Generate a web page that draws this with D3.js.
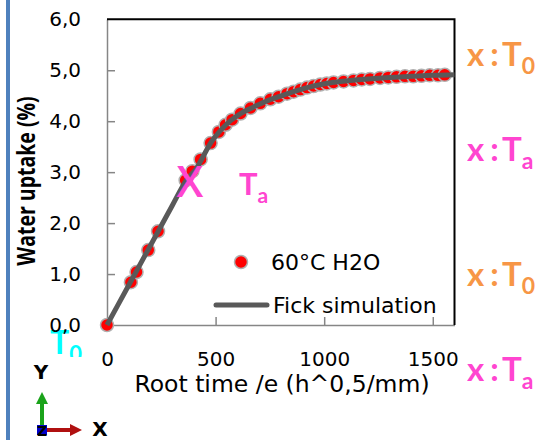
<!DOCTYPE html>
<html>
<head>
<meta charset="utf-8">
<title>Water uptake</title>
<script src="https://cdn.jsdelivr.net/npm/d3@7"></script>
<style>
	html, body {
		margin: 0;
		padding: 0;
		background: white;
	}
	svg text {
		font-family: 'DejaVu Sans', sans-serif;
	}
</style>
</head>
<body>
<div id="vis"></div>

<script>

// measured points, 60°C H2O (root time, uptake %)
var measX = [0, 110, 136, 190, 235, 362, 393, 431, 477, 515, 546, 576, 615, 661, 706, 752, 790, 829, 859, 890, 921, 951, 982, 1012, 1043, 1089, 1135, 1173, 1211, 1257, 1295, 1333, 1372, 1410, 1448, 1486, 1524, 1555];
var measY = [0, 0.84, 1.04, 1.47, 1.84, 2.84, 3.02, 3.25, 3.57, 3.79, 3.93, 4.03, 4.15, 4.26, 4.35, 4.43, 4.48, 4.54, 4.58, 4.62, 4.66, 4.69, 4.72, 4.74, 4.76, 4.78, 4.80, 4.82, 4.83, 4.85, 4.86, 4.87, 4.88, 4.88, 4.89, 4.90, 4.90, 4.91];

// Fick simulation curve
var fickX = [0, 100, 200, 300, 362, 416, 439, 477, 523, 569, 615, 676, 737, 798, 859, 921, 997, 1100, 1200, 1300, 1400, 1500, 1600];
var fickY = [0, 0.78, 1.56, 2.34, 2.82, 3.10, 3.28, 3.57, 3.82, 4.01, 4.15, 4.28, 4.40, 4.49, 4.58, 4.66, 4.73, 4.79, 4.83, 4.86, 4.88, 4.90, 4.91];

var xTicks = [0, 500, 1000, 1500];
var yTicks = [0, 1, 2, 3, 4, 5, 6];

var seriesNames = ["60°C H2O", "Fick simulation"];

var width = 535, height = 440;

var svg = d3.select("#vis").append("svg")
	.attr("width", width)
	.attr("height", height)
	.style("display", "block");

svg.append("rect").attr("width", width).attr("height", height).attr("fill", "white");

// blue bar on the left
svg.append("rect")
	.attr("x", 6).attr("y", 0).attr("width", 4).attr("height", height)
	.attr("fill", "#4f81bd");

var x = d3.scaleLinear().domain([0, 1600]).range([107, 454.5]);
var y = d3.scaleLinear().domain([0, 6]).range([325, 19.3]);

var comma = d3.formatLocale({decimal: ",", thousands: "", grouping: [3], currency: ["", ""]});

// cyan T0, partly hidden
svg.append("clipPath").attr("id", "cyanClip")
	.append("rect").attr("x", 0).attr("y", 300).attr("width", 110).attr("height", 57);

var cyan = svg.append("text")
	.attr("clip-path", "url(#cyanClip)")
	.attr("x", 50).attr("y", 354)
	.attr("fill", "#00ffff")
	.style("font-family", "Lato, sans-serif")
	.style("font-weight", 700)
	.style("font-size", "32px");
cyan.append("tspan").text("T");
cyan.append("tspan").attr("dy", 8).style("font-size", "22px").text("0");

// axes
var yAxis = d3.axisLeft(y)
	.tickValues(yTicks)
	.tickSizeInner(-8)
	.tickSizeOuter(0)
	.tickPadding(26)
	.tickFormat(comma.format(".1f"));

var xAxis = d3.axisBottom(x)
	.tickValues(xTicks)
	.tickSizeInner(-8)
	.tickSizeOuter(0)
	.tickPadding(27)
	.tickFormat(d3.format("d"));

var gy = svg.append("g").attr("transform", "translate(107,0)").call(yAxis);
var gx = svg.append("g").attr("transform", "translate(0,325)").call(xAxis);

svg.selectAll(".domain, .tick line")
	.attr("stroke", "#868686")
	.attr("stroke-width", 1.5);

svg.selectAll(".tick text")
	.attr("fill", "black")
	.style("font-family", "'DejaVu Sans', sans-serif")
	.style("font-size", "20px");

// no tick marks at the corners
gy.selectAll(".tick line").filter(function(d) { return d === 0 || d === 6; }).remove();
gx.selectAll(".tick line").filter(function(d) { return d === 0; }).remove();

// top and right border
svg.append("path")
	.attr("d", "M" + x(0) + "," + y(6) + "H" + x(1600) + "V" + y(0))
	.attr("fill", "none")
	.attr("stroke", "black")
	.attr("stroke-width", 2);

// measured dots
var pts = measX.map(function(d, i) { return {x: d, y: measY[i]}; });

svg.append("g").selectAll("circle")
	.data(pts)
	.enter().append("circle")
	.attr("cx", function(d) { return x(d.x); })
	.attr("cy", function(d) { return y(d.y); })
	.attr("r", 6.5)
	.attr("fill", "#ff0000")
	.attr("stroke", "#b0b0b0")
	.attr("stroke-width", 1.5);

// Fick line
var fick = fickX.map(function(d, i) { return {x: d, y: fickY[i]}; });

var line = d3.line()
	.x(function(d) { return x(d.x); })
	.y(function(d) { return y(d.y); })
	.curve(d3.curveMonotoneX);

svg.append("path")
	.datum(fick)
	.attr("d", line)
	.attr("fill", "none")
	.attr("stroke", "#595959")
	.attr("stroke-width", 5);

// legend
svg.append("circle")
	.attr("cx", 241).attr("cy", 262).attr("r", 6.5)
	.attr("fill", "#ff0000").attr("stroke", "#b0b0b0").attr("stroke-width", 1.5);
svg.append("text")
	.attr("x", 271).attr("y", 270)
	.style("font-size", "22px")
	.text(seriesNames[0]);

svg.append("line")
	.attr("x1", 216).attr("x2", 267).attr("y1", 305).attr("y2", 305)
	.attr("stroke", "#595959").attr("stroke-width", 5).attr("stroke-linecap", "round");
svg.append("text")
	.attr("x", 273).attr("y", 313)
	.style("font-size", "22px")
	.text(seriesNames[1]);

// axis titles
svg.append("text")
	.attr("x", 282).attr("y", 392)
	.attr("text-anchor", "middle")
	.style("font-size", "23.5px")
	.text("Root time /e (h^0,5/mm)");

svg.append("text")
	.attr("transform", "translate(35,181) rotate(-90) scale(1,1.25)")
	.attr("text-anchor", "middle")
	.style("font-family", "'Open Sans', sans-serif")
	.style("font-size", "19.5px")
	.style("font-weight", 700)
	.text("Water uptake (%)");

// magenta X marker and Ta
var magenta = "#ff45d0";
var orange = "#f79646";

svg.append("text")
	.attr("x", 190).attr("y", 197)
	.attr("text-anchor", "middle")
	.attr("fill", magenta)
	.style("font-family", "'Open Sans', sans-serif")
	.style("font-weight", 600)
	.style("font-size", "43px")
	.text("X");

var ta = svg.append("text")
	.attr("x", 239).attr("y", 195)
	.attr("fill", magenta)
	.style("font-family", "Lato, sans-serif")
	.style("font-weight", 700)
	.style("font-size", "31px");
ta.append("tspan").text("T");
ta.append("tspan").attr("dy", 8).style("font-size", "21px").text("a");

// right side labels
var sideLabels = [
	{y: 66, color: orange, sub: "0"},
	{y: 161, color: magenta, sub: "a"},
	{y: 286, color: orange, sub: "0"},
	{y: 381, color: magenta, sub: "a"}
];

sideLabels.forEach(function(d) {
	var t = svg.append("text")
		.attr("x", 467).attr("y", d.y)
		.attr("fill", d.color)
		.style("font-family", "Lato, sans-serif")
		.style("font-weight", 700)
		.style("font-size", "33px");
	t.append("tspan").text("x");
	t.append("tspan").attr("dx", 6).text(":");
	t.append("tspan").attr("dx", 5).text("T");
	t.append("tspan").attr("dy", 8).style("font-size", "23px").text(d.sub);
});

// small axis icon bottom left
var icon = svg.append("g");
icon.append("line")
	.attr("x1", 42).attr("x2", 42).attr("y1", 428).attr("y2", 402)
	.attr("stroke", "#1aa31a").attr("stroke-width", 4);
icon.append("path")
	.attr("d", "M36,404 L42,392 L48,404 Z")
	.attr("fill", "#1aa31a");
icon.append("line")
	.attr("x1", 46).attr("x2", 72).attr("y1", 430).attr("y2", 430)
	.attr("stroke", "#b01010").attr("stroke-width", 4);
icon.append("path")
	.attr("d", "M70,424 L82,430 L70,436 Z")
	.attr("fill", "#b01010");
icon.append("rect")
	.attr("x", 37).attr("y", 425).attr("width", 10).attr("height", 10)
	.attr("fill", "#0000cc");
icon.append("text")
	.attr("x", 42).attr("y", 436)
	.attr("text-anchor", "middle")
	.style("font-weight", 700)
	.style("font-size", "14px")
	.text("Z");
icon.append("text")
	.attr("x", 41).attr("y", 379)
	.attr("text-anchor", "middle")
	.style("font-weight", 700)
	.style("font-size", "20px")
	.text("Y");
icon.append("text")
	.attr("x", 100).attr("y", 436)
	.attr("text-anchor", "middle")
	.style("font-weight", 700)
	.style("font-size", "20px")
	.text("X");

</script>
</body>
</html>
